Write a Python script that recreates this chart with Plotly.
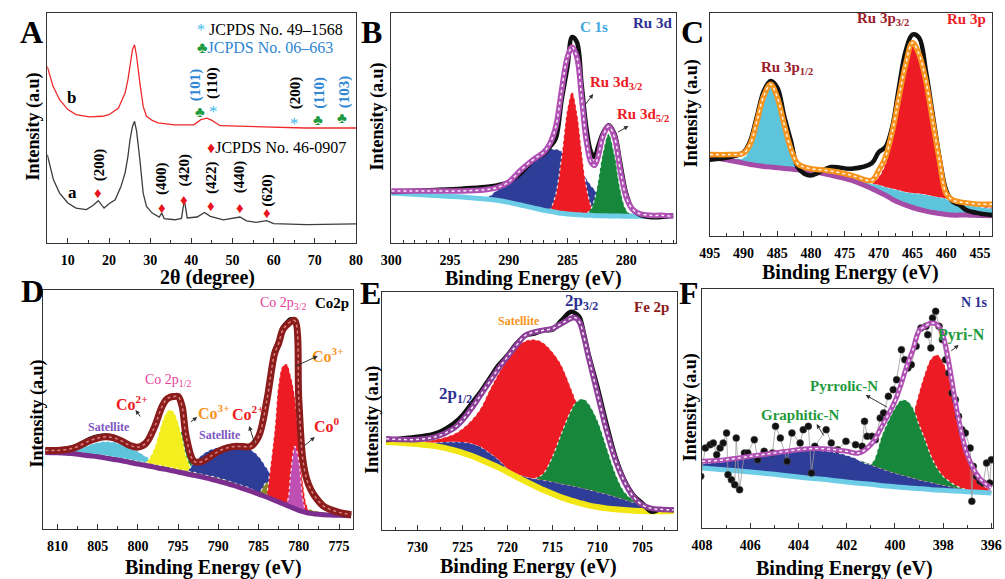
import plotly.graph_objects as go

W, H = 1005, 579
SERIF = "Liberation Serif"

# ---------------- Panel A : XRD ----------------
A_x_a = [5, 6.5, 8, 10, 12, 14.5, 16, 17.4, 18.8, 20, 21.5, 22.9, 23.9, 24.6, 25.1, 25.7, 26.2, 26.7, 27.5, 28.3,
         29.1, 30.5, 32.2, 32.8, 33.4, 36, 37.6, 38.3, 39, 41.4, 43.2, 44.6, 47.8, 51.8, 53.4, 55.7, 58.3, 60, 68, 76, 80]
A_y_a = [38.4, 27.5, 21.7, 17.4, 15.2, 14.5, 16.2, 18.4, 15.2, 17.1, 18.8, 24.6, 30.4, 37.7, 44.9, 50.7, 52.9, 48.6, 36.2, 21.7,
         15.9, 13.0, 11.3, 13.0, 10.6, 10.1, 10.7, 18.8, 10.9, 11.3, 13.3, 11.6, 10.1, 11.3, 9.6, 9.0, 9.7, 8.4, 8.0, 8.0, 8.3]
A_x_b = [5, 6.4, 8, 10, 12, 15.2, 18.4, 20, 22.3, 23.1, 23.9, 24.6, 25.1, 25.7, 26.2, 26.7, 27.5, 28.3, 29.1, 30.5,
         31.9, 35.9, 40.6, 42.3, 43.8, 45, 47, 51.8, 59.7, 67.7, 80]
A_y_b = [76.8, 68.1, 62.3, 58.0, 55.8, 54.8, 55.1, 55.8, 58.7, 61.6, 65.2, 71.0, 76.8, 84.1, 86.2, 81.2, 69.6, 59.4, 55.1, 53.3,
         52.2, 51.4, 51.4, 53.6, 54.3, 53.3, 51.0, 50.7, 50.3, 50.0, 50.0]

# ---------------- Panel B : Ru 3d / C 1s ----------------
B_x = [300, 297, 294, 292, 291, 290, 289, 288, 287.5, 287, 286.5, 286, 285.5, 285, 284.6, 284.2, 283.8, 283.4, 283, 282.7,
       282.4, 282, 281.5, 281, 280.5, 280, 279.5, 279, 278, 277, 276]
B_base = [150, 144, 138, 132, 128, 122, 114, 106, 102, 98, 95, 92, 89, 87, 86, 85, 84, 83, 83, 82,
          82, 82, 81, 81, 81, 80, 80, 80, 80, 80, 80]
B_blue = [150, 144, 138, 134, 158, 183, 218, 250, 263, 273, 281, 281, 276, 263, 250, 233, 213, 193, 173, 160,
          148, 133, 120, 108, 100, 93, 88, 85, 81, 80, 80]
B_red = [150, 144, 138, 132, 128, 122, 114, 106, 102, 98, 95, 145, 259, 404, 453, 394, 280, 171, 113, 95,
         82, 82, 81, 81, 81, 80, 80, 80, 80, 80, 80]
B_green = [150, 144, 138, 132, 128, 122, 114, 106, 102, 98, 95, 92, 89, 87, 86, 85, 84, 87, 103, 131,
           183, 268, 328, 267, 161, 100, 83, 80, 80, 80, 80]
B_fit = [156, 156, 156, 160, 166, 183, 218, 248, 260, 273, 298, 348, 458, 558, 588, 558, 438, 308, 243, 233,
         258, 318, 350, 318, 218, 138, 103, 90, 83, 83, 80]
B_data = [153, 158, 163, 168, 173, 183, 208, 246, 258, 268, 288, 313, 428, 528, 618, 603, 478, 348, 273, 258,
          288, 328, 353, 328, 238, 148, 103, 88, 78, 78, 83]

# ---------------- Panel C : Ru 3p ----------------
C_x = [495, 492, 490, 489, 488, 487, 486, 485, 484, 483, 482, 481, 480, 477, 474, 471, 470, 469, 468, 467,
       466, 465, 464, 463, 462, 461, 460, 459, 458, 457, 455, 453]
C_base = [238, 228, 220, 216, 213, 210, 208, 206, 204, 202, 200, 198, 196, 183, 168, 143, 133, 123, 111, 101,
          93, 86, 80, 75, 71, 68, 65, 63, 63, 63, 62, 61]
C_cyan = [242, 236, 236, 269, 340, 417, 451, 409, 326, 253, 215, 205, 203, 193, 178, 158, 155, 148, 143, 138,
          133, 130, 128, 125, 121, 117, 113, 103, 98, 94, 88, 83]
C_red = [242, 236, 236, 269, 340, 417, 451, 409, 326, 253, 215, 205, 203, 193, 178, 158, 178, 218, 298, 403,
         508, 580, 543, 458, 338, 218, 123, 106, 101, 97, 91, 85]
C_fit = [246, 246, 250, 278, 348, 423, 458, 418, 338, 263, 218, 208, 203, 196, 183, 168, 198, 238, 313, 418,
         518, 583, 548, 468, 348, 228, 128, 108, 103, 100, 96, 96]
C_data = [230, 238, 253, 288, 363, 438, 468, 448, 363, 288, 208, 188, 183, 208, 203, 220, 253, 268, 328, 448,
          558, 608, 598, 498, 368, 238, 138, 103, 93, 78, 68, 63]

# ---------------- Panel D : Co 2p ----------------
D_x = [811.5, 810, 808, 806, 805, 804, 803, 802, 801, 800, 799, 798, 797, 796.5, 796, 795.5, 795, 794.5, 794, 793,
       792, 791, 790, 789, 788, 787, 786, 785, 784, 783, 782.5, 782, 781.5, 781, 780.5, 780, 779.5, 779, 778.5, 778,
       777, 776, 775, 773.5]
D_base = [230, 229, 226, 220, 217, 213, 209, 205, 200, 195, 191, 186, 181, 179, 176, 174, 171, 169, 166, 161,
          156, 150, 144, 137, 130, 122, 114, 105, 96, 86, 81, 76, 71, 66, 61, 56, 52, 49, 47, 45,
          43, 42, 41, 40]
D_olive = [232, 232, 230, 226, 223, 220, 216, 212, 208, 203, 199, 194, 190, 187, 185, 182, 180, 177, 175, 170,
           164, 159, 153, 146, 138, 130, 122, 108, 140, 130, 108, 95, 88, 83, 78, 73, 68, 63, 58, 55,
           50, 46, 43, 41]
D_cyan = [231, 232, 238, 253, 260, 263, 261, 255, 245, 233, 218, 203, 188, 183, 176, 174, 171, 169, 166, 161,
          156, 150, 144, 137, 130, 122, 114, 105, 96, 86, 81, 76, 71, 66, 61, 56, 52, 49, 47, 45,
          43, 42, 41, 40]
D_yellow = [230, 229, 226, 220, 217, 213, 209, 205, 200, 195, 200, 240, 320, 348, 358, 350, 320, 275, 220, 168,
            156, 150, 144, 137, 130, 122, 114, 105, 96, 86, 81, 76, 71, 66, 61, 56, 52, 49, 47, 45,
            43, 42, 41, 40]
D_green = [230, 229, 226, 220, 217, 213, 209, 205, 200, 195, 191, 186, 181, 179, 185, 228, 278, 293, 258, 178,
           156, 150, 144, 137, 130, 122, 114, 105, 96, 86, 81, 76, 71, 66, 61, 56, 52, 49, 47, 45,
           43, 42, 41, 40]
D_navy = [230, 229, 226, 220, 217, 213, 209, 205, 200, 195, 191, 186, 181, 179, 176, 174, 171, 169, 166, 200,
          223, 238, 245, 248, 248, 246, 238, 218, 183, 148, 133, 118, 103, 88, 73, 60, 52, 49, 47, 45,
          43, 42, 41, 40]
D_red = [230, 229, 226, 220, 217, 213, 209, 205, 200, 195, 191, 186, 181, 179, 176, 174, 171, 169, 166, 161,
         156, 150, 144, 137, 130, 122, 114, 105, 96, 300, 440, 490, 495, 460, 400, 265, 140, 70, 48, 45,
         43, 42, 41, 40]
D_mag = [230, 229, 226, 220, 217, 213, 209, 205, 200, 195, 191, 186, 181, 179, 176, 174, 171, 169, 166, 161,
         156, 150, 144, 137, 130, 122, 114, 105, 96, 86, 81, 76, 80, 170, 248, 205, 90, 50, 47, 45,
         43, 42, 41, 40]
D_fit = [236, 236, 243, 265, 273, 277, 274, 264, 251, 246, 258, 303, 368, 388, 396, 398, 398, 368, 278, 203,
         203, 218, 233, 243, 248, 248, 248, 278, 383, 528, 558, 598, 613, 623, 626, 388, 208, 148, 118, 98,
         70, 58, 50, 43]
D_data = [238, 238, 246, 270, 278, 281, 277, 266, 252, 246, 262, 308, 372, 392, 398, 400, 396, 362, 270, 200,
          205, 222, 236, 246, 250, 250, 250, 282, 390, 535, 565, 605, 620, 630, 622, 400, 215, 150, 118, 98,
          70, 58, 48, 40]

# ---------------- Panel E : Fe 2p ----------------
E_x = [733.5, 732, 730, 728, 726, 725, 724, 723, 722, 721, 720, 719, 718, 717, 716, 715, 714, 713, 712.5, 712,
       711.5, 711, 710, 709, 708, 707, 706, 705, 704, 703, 701.5]
E_base = [264, 262, 258, 252, 240, 232, 223, 212, 200, 188, 174, 160, 146, 133, 120, 109, 98, 89, 85, 81,
          78, 74, 69, 65, 62, 60, 58, 57, 56, 56, 56]
E_blue = [268, 265, 262, 263, 265, 264, 260, 250, 232, 212, 185, 168, 160, 154, 150, 145, 139, 134, 131, 128,
          125, 122, 115, 108, 100, 92, 83, 75, 65, 60, 57]
E_red = [268, 266, 264, 272, 288, 305, 330, 365, 420, 470, 515, 550, 568, 572, 562, 535, 495, 430, 395, 360,
         325, 290, 220, 170, 135, 110, 90, 75, 65, 60, 57]
E_green = [268, 265, 262, 263, 265, 264, 260, 250, 232, 212, 185, 168, 160, 154, 170, 220, 290, 355, 380, 392,
           393, 380, 330, 250, 170, 115, 90, 75, 65, 60, 57]
E_fit = [274, 272, 272, 280, 305, 330, 365, 405, 445, 485, 520, 555, 585, 595, 600, 605, 620, 635, 638, 625,
         580, 520, 410, 300, 210, 145, 100, 75, 65, 62, 60]
E_data = [270, 274, 280, 290, 320, 345, 380, 415, 455, 495, 525, 560, 585, 590, 600, 602, 630, 655, 652, 640,
          590, 530, 430, 320, 220, 150, 105, 80, 55, 62, 60]

# ---------------- Panel F : N 1s ----------------
F_x = [408, 407, 406, 405, 404, 403.5, 403, 402.5, 402, 401.5, 401, 400.5, 400, 399.75, 399.5, 399.25, 399, 398.75,
       398.5, 398.25, 398, 397.75, 397.5, 397.25, 397, 396.5, 396]
F_base = [180, 174, 168, 161, 153, 149, 146, 142, 138, 134, 131, 127, 124, 122, 121, 119, 118, 117,
          115, 114, 113, 112, 111, 110, 109, 107, 105]
F_navy = [193, 200, 212, 223, 231, 233, 232, 227, 218, 205, 190, 177, 165, 160, 155, 150, 145, 141,
          137, 133, 129, 125, 121, 118, 115, 110, 105]
F_red = [193, 200, 212, 223, 231, 233, 232, 227, 218, 205, 192, 188, 210, 240, 283, 340, 406, 465,
         508, 520, 498, 449, 382, 308, 225, 140, 112]
F_green = [193, 200, 212, 223, 231, 233, 232, 227, 218, 205, 192, 285, 360, 383, 382, 360, 310, 265,
           215, 180, 155, 140, 128, 120, 115, 110, 105]
F_fit = [200, 205, 215, 225, 235, 238, 238, 235, 230, 225, 250, 310, 380, 430, 487, 535, 592, 605,
         615, 610, 575, 490, 380, 290, 220, 150, 120]
F_dx = [408.05, 407.86, 407.66, 407.53, 407.39, 407.25, 407.12, 406.98, 406.92, 406.78, 406.64, 406.58, 406.44,
        406.24, 406.10, 405.83, 405.69, 405.42, 405.08, 404.95, 404.75, 404.47, 404.27, 403.93, 403.80, 403.59,
        403.46, 403.32, 402.85, 402.64, 402.37, 402.03, 401.63, 401.36, 401.26, 401.15, 400.95, 400.81, 400.61,
        400.47, 400.27, 400.07, 399.93, 399.73, 399.59, 399.46, 399.32, 399.12, 398.92, 398.71, 398.64, 398.51,
        398.44, 398.31, 398.17, 398.03, 397.90, 397.76, 397.63, 397.49, 397.36, 397.22, 397.08, 396.88, 396.81,
        396.75, 396.61, 396.47, 396.34, 396.20, 396.07, 396.00]
F_dy = [155, 240, 250, 255, 220, 240, 255, 285, 160, 145, 130, 270, 115, 225, 225, 265, 205, 230, 225, 305,
        270, 200, 285, 255, 295, 305, 165, 245, 295, 255, 235, 260, 250, 245, 320, 275, 275, 265, 330, 345,
        395, 415, 445, 535, 505, 480, 490, 545, 600, 605, 580, 540, 630, 650, 605, 565, 505, 465, 405, 385,
        335, 295, 285, 240, 80, 185, 155, 140, 135, 195, 135, 205]

# ---------------- colours ----------------
RED = "#ed1c24"
GREEN = "#17873c"
NAVY = "#2e3d98"
CYAN = "#5ec4dc"
YELLOW = "#f3ee1d"
OLIVE = "#8a8a2c"
MAGENTA = "#c04fb4"
ORANGE = "#f7941d"

fig = go.Figure()

# panel boxes in pixels (left, top, right, bottom)
boxes = [(37, 13, 352, 243), (388, 13, 678, 243), (713, 13, 1001, 236),
         (33, 290, 349, 529), (379, 292, 680, 530), (705, 289, 1002, 528)]
xranges = [[5, 80], [300, 275.8], [495, 453.2], [811.75, 773.26], [733.9, 701.1], [408, 395.93]]
yranges = [[0, 100], [0, 690], [0, 673], [0, 718], [0, 715], [0, 717]]
dticks = [10, 5, 5, 5, 5, 2]
minors = [5, 1, 2.5, 2.5, 2.5, 1]

AX = [("x", "y"), ("x2", "y2"), ("x3", "y3"), ("x4", "y4"), ("x5", "y5"), ("x6", "y6")]


def line(ax, xs, ys, color, width, shape="spline", dash=None):
    fig.add_trace(go.Scatter(x=xs, y=ys, mode="lines", xaxis=ax[0], yaxis=ax[1],
                             line=dict(color=color, width=width, shape=shape, dash=dash),
                             hoverinfo="skip", showlegend=False))


def band(ax, xs, base, top, color, edge="rgba(255,255,255,0.85)"):
    idx = [i for i in range(len(xs)) if abs(top[i] - base[i]) > 0.5]
    lo = max(min(idx) - 1, 0)
    hi = min(max(idx) + 1, len(xs) - 1)
    sx = xs[lo:hi + 1]
    fig.add_trace(go.Scatter(x=sx, y=base[lo:hi + 1], mode="lines", xaxis=ax[0], yaxis=ax[1],
                             line=dict(width=0, shape="spline"), hoverinfo="skip", showlegend=False))
    fig.add_trace(go.Scatter(x=sx, y=top[lo:hi + 1], mode="lines", xaxis=ax[0], yaxis=ax[1],
                             fill="tonexty", fillcolor=color,
                             line=dict(color=edge, width=1.2, dash="dot", shape="spline"),
                             hoverinfo="skip", showlegend=False))


def envelope(ax, xs, ys, color, width=5.5, dots="rgba(255,255,255,0.9)"):
    line(ax, xs, ys, color, width)
    line(ax, xs, ys, dots, 1.5, dash="dot")


# ---- A
line(AX[0], A_x_a, A_y_a, "#3c3c3c", 1.3, shape="linear")
line(AX[0], A_x_b, A_y_b, "#ee2a2a", 1.3, shape="linear")

# ---- B
band(AX[1], B_x, B_base, B_blue, NAVY)
band(AX[1], B_x, B_base, B_red, RED)
band(AX[1], B_x, B_base, B_green, GREEN)
line(AX[1], B_x, B_base, "#6dcde6", 5)
line(AX[1], B_x, B_data, "#111111", 4.5)
envelope(AX[1], B_x, B_fit, "#b050b4")

# ---- C
band(AX[2], C_x, C_base, C_cyan, CYAN)
band(AX[2], C_x, C_cyan, C_red, RED)
line(AX[2], C_x, C_base, "#a54ba8", 5)
line(AX[2], C_x, C_data, "#111111", 4.5)
envelope(AX[2], C_x, C_fit, ORANGE)

# ---- D
band(AX[3], D_x, D_base, D_cyan, CYAN)
band(AX[3], D_x, D_base, D_green, GREEN)
band(AX[3], D_x, D_base, D_yellow, YELLOW)
band(AX[3], D_x, D_base, D_navy, NAVY)
band(AX[3], D_x, D_base, D_olive, OLIVE)
band(AX[3], D_x, D_base, D_red, RED)
band(AX[3], D_x, D_base, D_mag, MAGENTA)
line(AX[3], D_x, D_base, "#7b2e8e", 5)
line(AX[3], D_x, D_data, "#111111", 4.5)
envelope(AX[3], D_x, D_fit, "#8b1c1c", width=7, dots="rgba(255,170,170,0.7)")

# ---- E
band(AX[4], E_x, E_base, E_blue, NAVY)
band(AX[4], E_x, E_blue, E_red, RED)
band(AX[4], E_x, E_blue, E_green, GREEN)
line(AX[4], E_x, E_base, "#f2e614", 6)
line(AX[4], E_x, E_data, "#111111", 4.5)
envelope(AX[4], E_x, E_fit, "#8e3f9a")

# ---- F
band(AX[5], F_x, F_base, F_navy, NAVY)
band(AX[5], F_x, F_navy, F_red, RED)
band(AX[5], F_x, F_navy, F_green, GREEN)
line(AX[5], F_x, F_base, "#6dcde6", 5)
fig.add_trace(go.Scatter(x=F_dx, y=F_dy, mode="lines+markers", xaxis="x6", yaxis="y6",
                         line=dict(color="#9a9a9a", width=0.8),
                         marker=dict(color="#111111", size=7, line=dict(color="#555", width=0.5)),
                         hoverinfo="skip", showlegend=False))
envelope(AX[5], F_x, F_fit, "#b050b4", width=5)

# ---------------- axes ----------------
layout = dict(width=W, height=H, margin=dict(l=0, r=0, t=0, b=0), autosize=False,
              paper_bgcolor="white", plot_bgcolor="white", showlegend=False)
for i, (l, t, r, b) in enumerate(boxes):
    n = "" if i == 0 else str(i + 1)
    layout["xaxis" + n] = dict(
        domain=[l / W, r / W], anchor="y" + n, range=xranges[i], dtick=dticks[i],
        ticks="inside", ticklen=5, tickwidth=1, tickcolor="#333", showline=True, linecolor="#333",
        linewidth=1.2, mirror=True, showgrid=False, zeroline=False, ticklabelstandoff=4,
        tickfont=dict(family=SERIF, size=14, color="black", weight="bold"),
        minor=dict(ticks="inside", dtick=minors[i], ticklen=3, tickcolor="#333"))
    layout["yaxis" + n] = dict(
        domain=[1 - b / H, 1 - t / H], anchor="x" + n, range=yranges[i], showticklabels=False,
        ticks="", showline=True, linecolor="#333", linewidth=1.2, mirror=True,
        showgrid=False, zeroline=False)
fig.update_layout(**layout)


# ---------------- text ----------------
def ann(text, x, y, size, color="black", bold=True, angle=0, xanchor="center"):
    fig.add_annotation(text=text, x=x / W, y=1 - y / H, xref="paper", yref="paper", showarrow=False,
                       font=dict(family=SERIF, size=size, color=color, weight="bold" if bold else "normal"),
                       textangle=angle, xanchor=xanchor, yanchor="middle")


def arrow(x0, y0, x1, y1):
    fig.add_annotation(text="", x=x1 / W, y=1 - y1 / H, xref="paper", yref="paper", showarrow=True,
                       ax=x0 - x1, ay=y0 - y1, arrowhead=2, arrowsize=0.9, arrowwidth=1, arrowcolor="#333")


# panel letters
for letter, (lx, ly) in zip("ABCDEF", [(21, 32), (368, 32), (695, 32), (22, 291), (367, 293), (692, 293)]):
    ann(letter, lx, ly, 32)

# axis titles
for (tx, ty) in [(23, 127), (373, 117), (695, 113), (27, 413), (368, 420), (693, 407)]:
    ann("Intensity (a.u)", tx, ty, 18, angle=-90)
ann("2θ (degree)", 200, 277, 20)
for (tx, ty) in [(533, 278), (857, 272), (207, 567), (528, 566), (850, 568)]:
    ann("Binding Energy (eV)", tx, ty, 20)

# panel A labels
STAR = "#3cb8ea"
CLUB = "#1e9a40"
BLUE = "#2f86d3"
DIAM = "#e8141c"
ann("<span style='color:%s'>*</span> JCPDS No. 49–1568" % STAR, 188, 30, 16, bold=False, xanchor="left")
ann("<span style='color:%s'>♣</span><span style='color:%s'>JCPDS No. 06–663</span>" % (CLUB, BLUE),
    188, 48, 16, bold=False, xanchor="left")
ann("<span style='color:%s'>♦</span>JCPDS No. 46-0907" % DIAM, 198, 147, 16, bold=False, xanchor="left")
ann("b", 62, 98, 17)
ann("a", 63, 193, 17)
for lab, lx, ly, c in [("(200)", 90, 165, "black"), ("(400)", 153, 178, "black"), ("(420)", 177, 170, "black"),
                       ("(422)", 204, 177, "black"), ("(440)", 233, 177, "black"), ("(620)", 261, 190, "black"),
                       ("(101)", 188, 85, BLUE), ("(110)", 205, 83, "black"), ("(200)", 290, 93, "black"),
                       ("(110)", 314, 93, BLUE), ("(103)", 340, 92, BLUE)]:
    ann(lab, lx, ly, 15, color=c, angle=-90)
for mx, my in [(89, 193), (154, 208), (177, 200), (204, 206), (234, 208), (261, 213)]:
    ann("♦", mx, my, 15, color=DIAM, bold=False)
for mx, my in [(193, 112), (313, 120), (338, 118)]:
    ann("♣", mx, my, 15, color=CLUB, bold=False)
for mx, my in [(207, 111), (289, 124)]:
    ann("*", mx, my, 17, color=STAR, bold=False)

# panel B labels
ann("C 1s", 595, 27, 15, color="#3fa9e0")
ann("Ru 3d", 655, 23, 15, color="#2e3192")
ann("Ru 3d<sub>3/2</sub>", 617, 83, 15, color=RED)
ann("Ru 3d<sub>5/2</sub>", 645, 115, 15, color=RED)
arrow(585, 106, 594, 94)
arrow(618, 133, 630, 126)

# panel C labels
ann("Ru 3p<sub>3/2</sub>", 890, 19, 15, color="#9b1c2a")
ann("Ru 3p", 975, 19, 15, color=RED)
ann("Ru 3p<sub>1/2</sub>", 792, 68, 15, color="#9b1c2a")

# panel D labels
PINK = "#e8409a"
ann("Co 2p<sub>3/2</sub>", 278, 303, 14, color=PINK, bold=False)
ann("Co2p", 328, 303, 15)
ann("Co<sup>3+</sup>", 323, 355, 16, color=ORANGE)
ann("Co<sup>0</sup>", 322, 425, 16, color=RED)
ann("Co 2p<sub>1/2</sub>", 160, 380, 14, color=PINK, bold=False)
ann("Co<sup>2+</sup>", 123, 403, 16, color=RED)
ann("Co<sup>3+</sup>", 207, 412, 16, color=ORANGE)
ann("Co<sup>2+</sup>", 242, 413, 16, color=RED)
ann("Satellite", 100, 427, 12, color="#7e57c2")
ann("Satellite", 213, 435, 12, color="#7e57c2")
arrow(289, 367, 313, 356)
arrow(298, 447, 310, 437)
arrow(133, 418, 127, 410)
arrow(182, 423, 190, 417)
arrow(249, 445, 243, 426)

# panel E labels
ann("2p<sub>3/2</sub>", 582, 302, 17, color="#2e3192")
ann("Fe 2p", 653, 307, 15, color="#8b1a1a")
ann("Satellite", 518, 321, 12, color=ORANGE)
ann("2p<sub>1/2</sub>", 454, 395, 17, color="#2e3192")

# panel F labels
FG = "#1e9a3c"
ann("N 1s", 983, 302, 14, color="#2e3192")
ann("Pyri-N", 970, 335, 16, color=FG)
ann("Pyrrolic-N", 850, 386, 15, color=FG)
ann("Graphitic-N", 805, 415, 15, color=FG)
arrow(958, 352, 967, 345)
arrow(895, 408, 872, 395)
arrow(830, 437, 822, 424)

fig.write_html("out.html", config={"displayModeBar": False},
               post_script="document.body.style.margin='0px';document.body.style.overflow='hidden';")
